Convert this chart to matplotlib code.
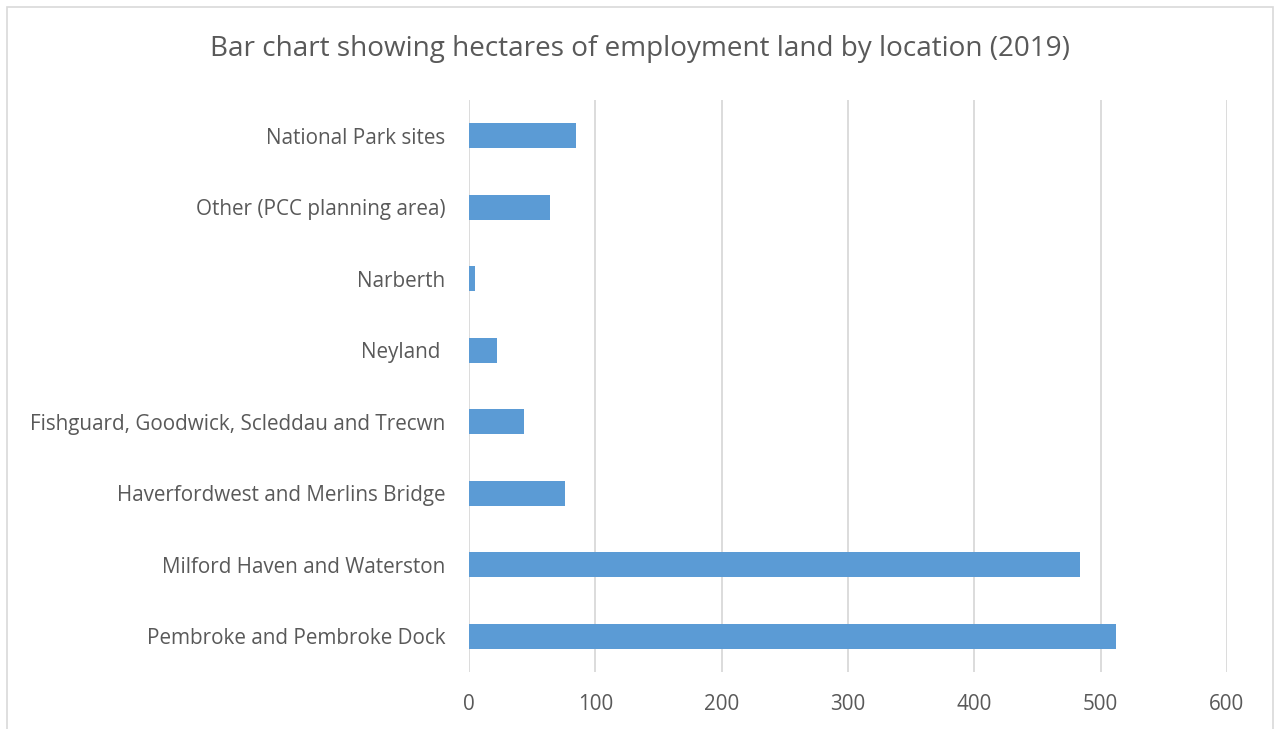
import matplotlib
matplotlib.use("Agg")
import matplotlib.pyplot as plt
from matplotlib.patches import Rectangle

# data, bottom to top as drawn
locations = [
    "Pembroke and Pembroke Dock",
    "Milford Haven and Waterston",
    "Haverfordwest and Merlins Bridge",
    "Fishguard, Goodwick, Scleddau and Trecwn",
    "Neyland ",
    "Narberth",
    "Other (PCC planning area)",
    "National Park sites",
]
hectares = [512, 484, 76, 43.5, 22.5, 5, 64.5, 85]
x_ticks = [0, 100, 200, 300, 400, 500, 600]

plt.rcParams['font.family'] = ['Open Sans', 'DejaVu Sans']
text_col = '#595959'
grid_col = '#d9d9d9'

W, H = 1279, 729
fig = plt.figure(figsize=(W / 100, H / 100), dpi=100)
ax = fig.add_axes([469 / W, 1 - 672 / H, (1227 - 469) / W, (672 - 100) / H])

ax.barh(range(len(locations)), hectares, height=0.35, color='#5b9bd5', zorder=3)

ax.set_xlim(0, 600)
ax.set_ylim(-0.5, len(locations) - 0.5)
ax.set_xticks(x_ticks)
ax.set_xticklabels([str(t) for t in x_ticks])
ax.set_yticks(range(len(locations)))
ax.set_yticklabels(locations)
ax.tick_params(axis='both', length=0, labelsize=14.9, colors=text_col)
ax.tick_params(axis='x', pad=16)
ax.tick_params(axis='y', pad=17)
ax.grid(axis='x', color=grid_col, linewidth=1.3, zorder=0)
for s in ax.spines.values():
    s.set_visible(False)

fig.text(640 / W, 1 - 49 / H, "Bar chart showing hectares of employment land by location (2019)",
         ha='center', va='center', fontsize=20.1, color=text_col)

# outer chart border
fig.patches.append(Rectangle((7 / W, -0.05), (1273 - 7) / W, 1.05 - 7 / H,
                             transform=fig.transFigure, fill=False,
                             edgecolor=grid_col, linewidth=1.2))

fig.savefig('out.png', dpi=100)
